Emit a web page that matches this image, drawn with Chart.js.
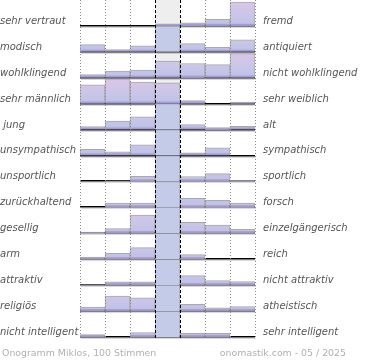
<!DOCTYPE html>
<html>
<head>
<meta charset="utf-8">
<script src="https://cdn.jsdelivr.net/npm/chart.js"></script>
<style>
  body { margin: 0; background: #fff; }
  #wrap { width: 370px; height: 360px; }
</style>
</head>
<body>
<div id="wrap"><canvas id="grafico"></canvas></div>
<script>
// Spalten der Skala (7 Stufen)
const spalten = ['1', '2', '3', '4', '5', '6', '7'];

const linksLabels = ['sehr vertraut', 'modisch', 'wohlklingend', 'sehr männlich', ' jung', 'unsympathisch',
  'unsportlich', 'zurückhaltend', 'gesellig', 'arm', 'attraktiv', 'religiös', 'nicht intelligent'];
const rechtsLabels = ['fremd', 'antiquiert', 'nicht wohlklingend', 'sehr weiblich', 'alt', 'sympathisch',
  'sportlich', 'forsch', 'einzelgängerisch', 'reich', 'nicht attraktiv', 'atheistisch', 'sehr intelligent'];

// Balkenhöhe in % der Zeilenhöhe (100 = gekappt)
const werteVertraut     = [0, 0, 0, 8, 12, 25, 92];
const werteModisch      = [28, 9, 23, 100, 32, 17, 46];
const werteWohlklingend = [12, 26, 30, 64, 55, 51, 93];
const werteMaennlich    = [73, 96, 83, 80, 12, 0, 6];
const werteJung         = [12, 33, 49, 100, 19, 8, 13];
const werteSympathisch  = [24, 14, 41, 100, 10, 30, 0];
const werteSportlich    = [0, 2, 20, 100, 19, 30, 4];
const werteForsch       = [0, 17, 17, 100, 35, 27, 17];
const werteGesellig     = [5, 18, 70, 100, 42, 32, 15];
const werteArm          = [8, 23, 45, 100, 18, 0, 0];
const werteAttraktiv    = [2, 13, 13, 100, 37, 18, 14];
const werteReligioes    = [15, 58, 51, 100, 26, 13, 17];
const werteIntelligent  = [9, 0, 17, 100, 14, 14, 0];

const werte = [werteVertraut, werteModisch, werteWohlklingend, werteMaennlich, werteJung, werteSympathisch,
  werteSportlich, werteForsch, werteGesellig, werteArm, werteAttraktiv, werteReligioes, werteIntelligent];

const fussLinks = 'Onogramm Miklos, 100 Stimmen';
const fussRechts = 'onomastik.com - 05 / 2025';

const ZEILE = 100;
const N = linksLabels.length;

let verlauf = null;
let verlaufHoehe = 0;
function balkenFarbe(context) {
  const chart = context.chart;
  const area = chart.chartArea;
  const item = context.raw;
  if (!area || !item) return '#c4cbe9';
  if (item[1] - item[0] >= ZEILE) return '#c4cbe9';
  if (!verlauf || verlaufHoehe !== area.bottom - area.top) {
    verlaufHoehe = area.bottom - area.top;
    verlauf = chart.ctx.createLinearGradient(0, area.top, 0, area.bottom);
    for (let i = 0; i < N; i++) {
      const t0 = i / N, h = 1 / N;
      verlauf.addColorStop(t0, '#dcc5e6');
      verlauf.addColorStop(t0 + h * 0.55, '#cbc6e8');
      verlauf.addColorStop(t0 + h * 0.9, '#bfc2e8');
      verlauf.addColorStop(t0 + h * 0.93, '#aaa2d3');
      verlauf.addColorStop(t0 + h * 0.999, '#9a90c6');
    }
  }
  return verlauf;
}

const datensaetze = werte.map((reihe, i) => {
  const basis = (N - 1 - i) * ZEILE;
  return {
    yAxisID: 'y',
    data: reihe.map(v => v > 0 ? [basis, basis + Math.min(v, ZEILE)] : null),
    backgroundColor: balkenFarbe,
    borderColor: 'rgba(140,140,140,0.75)',
    borderWidth: { top: 1, left: 1, right: 1, bottom: 0 },
    borderSkipped: false,
    barPercentage: 1,
    categoryPercentage: 1,
    grouped: false
  };
});

const deko = {
  id: 'deko',
  beforeDatasetsDraw(chart) {
    const { ctx, chartArea: a, scales: { y } } = chart;
    const w = (a.right - a.left) / spalten.length;
    ctx.save();
    ctx.fillStyle = '#eeeeee';
    ctx.fillRect(a.left + 3 * w, 0, w, a.bottom);
    // Grundlinien jeder Zeile
    for (let i = 0; i < N; i++) {
      const py = Math.round(y.getPixelForValue(i * ZEILE));
      ctx.fillStyle = 'rgba(0,0,0,0.15)';
      ctx.fillRect(a.left + 1, py + 1, a.right - a.left, 1);
      ctx.fillStyle = '#000';
      ctx.fillRect(a.left, py - 1, a.right - a.left, 1.5);
    }
    ctx.restore();
  },
  afterDatasetsDraw(chart) {
    const { ctx, chartArea: a } = chart;
    const w = (a.right - a.left) / spalten.length;
    ctx.save();
    ctx.lineWidth = 1;
    for (let k = 0; k <= spalten.length; k++) {
      const px = Math.round(a.left + k * w) + 0.5;
      ctx.beginPath();
      if (k === 3 || k === 4) {
        ctx.strokeStyle = '#000';
        ctx.setLineDash([3, 2]);
      } else {
        ctx.strokeStyle = '#8a8a8a';
        ctx.setLineDash([1, 2]);
      }
      ctx.moveTo(px, 0);
      ctx.lineTo(px, a.bottom + 1);
      ctx.stroke();
    }
    ctx.restore();
  },
  afterDraw(chart) {
    const ctx = chart.ctx;
    ctx.save();
    ctx.font = '9.4px "DejaVu Sans"';
    ctx.fillStyle = '#b0b0b0';
    ctx.textBaseline = 'alphabetic';
    ctx.textAlign = 'left';
    ctx.fillText(fussLinks, 2, 355.5);
    ctx.textAlign = 'right';
    ctx.fillText(fussRechts, 346, 355.5);
    ctx.restore();
  }
};

const schrift = { family: 'DejaVu Sans', size: 10, style: 'italic' };
const zeilenTicks = () => linksLabels.map((_, i) => ({ value: (N - 1 - i) * ZEILE + 18 })).reverse();
const zeileVon = v => N - 1 - Math.floor(v / ZEILE);

const ctx = document.getElementById('grafico').getContext('2d');
new Chart(ctx, {
  type: 'bar',
  data: { labels: spalten, datasets: datensaetze },
  options: {
    responsive: true,
    maintainAspectRatio: false,
    animation: false,
    layout: { padding: { top: 0, bottom: 23, left: 0, right: 0 } },
    plugins: { legend: { display: false }, tooltip: { enabled: false } },
    scales: {
      x: { type: 'category', display: false },
      y: {
        type: 'linear', position: 'left', min: 0, max: N * ZEILE,
        grid: { display: false, drawTicks: false }, border: { display: false },
        afterBuildTicks: s => { s.ticks = zeilenTicks(); },
        afterFit: s => { s.width = 80; s.paddingTop = 0; s.paddingBottom = 0; },
        ticks: {
          autoSkip: false, crossAlign: 'far', padding: 0, color: '#555', font: schrift,
          callback: v => linksLabels[zeileVon(v)]
        }
      },
      y2: {
        type: 'linear', position: 'right', min: 0, max: N * ZEILE,
        grid: { display: false, drawTicks: false }, border: { display: false },
        afterBuildTicks: s => { s.ticks = zeilenTicks(); },
        afterFit: s => { s.width = 115; s.paddingTop = 0; s.paddingBottom = 0; },
        ticks: {
          autoSkip: false, crossAlign: 'near', padding: 8, color: '#555', font: schrift,
          callback: v => rechtsLabels[zeileVon(v)]
        }
      }
    }
  },
  plugins: [deko]
});
</script>
</body>
</html>
